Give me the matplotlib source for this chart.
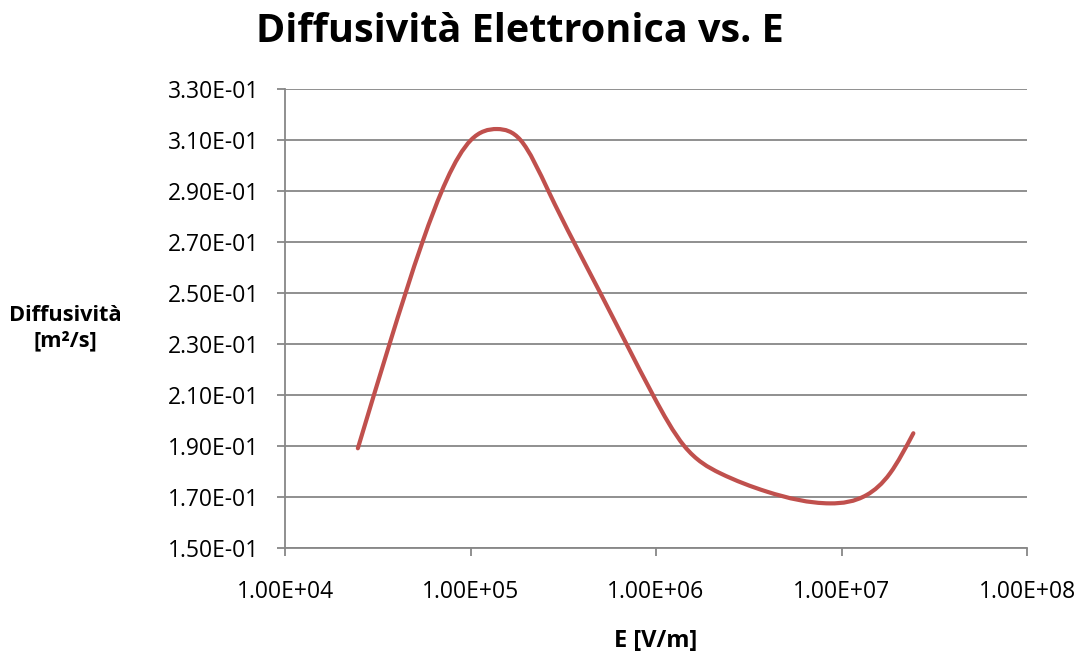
import numpy as np
import matplotlib
matplotlib.use("Agg")
import matplotlib.pyplot as plt
from matplotlib.path import Path
from matplotlib.patches import PathPatch
from matplotlib.ticker import FixedLocator, FuncFormatter, NullLocator

plt.rcParams['font.family'] = ['Open Sans', 'DejaVu Sans']

# Electron diffusivity vs. electric field
field_E = [2.47e4, 3.66e4, 5.51e4, 1.006e5, 1.392e5, 1.859e5, 2.63e5, 5.01e5,
           9.63e5, 1.42e6, 2.22e6, 3.96e6, 8.68e6, 1.368e7, 1.827e7, 2.44e7]
diffusivity = [0.1891, 0.2300, 0.2700, 0.3100, 0.3143, 0.3100, 0.2900, 0.2500,
               0.2100, 0.1900, 0.1793, 0.1721, 0.1675, 0.1708, 0.1793, 0.1950]

x_ticks = [1e4, 1e5, 1e6, 1e7, 1e8]
y_ticks = [0.15, 0.17, 0.19, 0.21, 0.23, 0.25, 0.27, 0.29, 0.31, 0.33]

title = "Diffusività Elettronica vs. E"
x_label = "E [V/m]"
y_label = "Diffusività\n[m²/s]"

line_color = "#C0504D"
grid_color = "#878787"


def smooth_path(xs, ys):
    """Natural cubic spline of y over log10(x), emitted as Bezier segments."""
    lx = np.log10(np.asarray(xs, float))
    y = np.asarray(ys, float)
    n = len(lx)
    h = np.diff(lx)
    # second derivatives (natural end conditions)
    A = np.zeros((n, n))
    r = np.zeros(n)
    A[0, 0] = A[-1, -1] = 1.0
    for i in range(1, n - 1):
        A[i, i - 1] = h[i - 1] / 6.0
        A[i, i] = (h[i - 1] + h[i]) / 3.0
        A[i, i + 1] = h[i] / 6.0
        r[i] = (y[i + 1] - y[i]) / h[i] - (y[i] - y[i - 1]) / h[i - 1]
    M = np.linalg.solve(A, r)
    verts = [(lx[0], y[0])]
    codes = [Path.MOVETO]
    for i in range(n - 1):
        slope = (y[i + 1] - y[i]) / h[i]
        s0 = slope - h[i] * (2 * M[i] + M[i + 1]) / 6.0
        s1 = slope + h[i] * (M[i] + 2 * M[i + 1]) / 6.0
        verts += [(lx[i] + h[i] / 3.0, y[i] + s0 * h[i] / 3.0),
                  (lx[i + 1] - h[i] / 3.0, y[i + 1] - s1 * h[i] / 3.0),
                  (lx[i + 1], y[i + 1])]
        codes += [Path.CURVE4] * 3
    verts = np.array(verts)
    verts[:, 0] = 10 ** verts[:, 0]
    return Path(verts, codes)


fig = plt.figure(figsize=(10.82, 6.57), dpi=100)
ax = fig.add_axes([285 / 1082, 1 - 548 / 657, (1027 - 285) / 1082, (548 - 89) / 657])

ax.set_xscale("log")
ax.set_xlim(1e4, 1e8)
ax.set_ylim(0.15, 0.33)
ax.xaxis.set_major_locator(FixedLocator(x_ticks))
ax.xaxis.set_minor_locator(NullLocator())
ax.yaxis.set_major_locator(FixedLocator(y_ticks))
ax.xaxis.set_major_formatter(FuncFormatter(lambda v, p: f"{v:.2E}"))
ax.yaxis.set_major_formatter(FuncFormatter(lambda v, p: f"{v:.2E}"))

ax.grid(axis="y", color=grid_color, linewidth=1.3)
ax.set_axisbelow(True)
for side in ("top", "right"):
    ax.spines[side].set_visible(False)
for side in ("left", "bottom"):
    ax.spines[side].set_color(grid_color)
    ax.spines[side].set_linewidth(1.3)
ax.tick_params(axis="both", color=grid_color, width=1.3, length=5.8,
               labelsize=16.5, labelcolor="black")
ax.tick_params(axis="x", pad=17)
ax.tick_params(axis="y", pad=13)

patch = PathPatch(smooth_path(field_E, diffusivity), facecolor="none",
                  edgecolor=line_color, linewidth=3.0, capstyle="round",
                  joinstyle="round", zorder=3)
ax.add_patch(patch)

fig.text(520 / 1082, 1 - 31 / 657, title, ha="center", va="center",
         fontsize=28.5, fontweight="bold")
fig.text(656 / 1082, 1 - 641 / 657, x_label, ha="center", va="center",
         fontsize=17, fontweight="bold")
fig.text(65.5 / 1082, 1 - 328 / 657, y_label, ha="center", va="center",
         fontsize=15.7, fontweight="bold", linespacing=1.25)

fig.savefig("out.png", dpi=100, facecolor="white")
